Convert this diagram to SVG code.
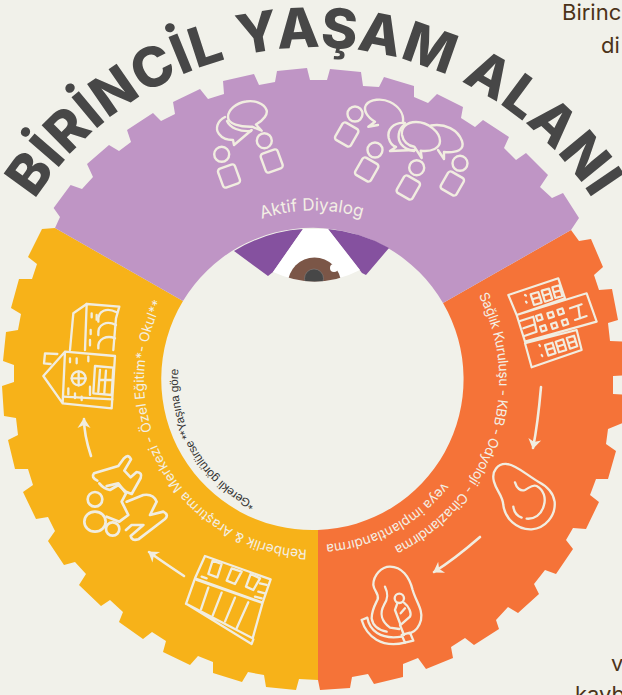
<svg xmlns="http://www.w3.org/2000/svg" width="622" height="695" viewBox="0 0 622 695">
<style>
.ic{fill:none;stroke:#f1ede0;stroke-width:2.4;stroke-linecap:round;stroke-linejoin:round}
.z{stroke-width:7}
.pf{fill:#bf95c5}
.t{font-family:"Inter","Open Sans",sans-serif;fill:#f3efe4;font-size:13.6px}
.sn{fill:#4c3319;font-family:"Inter","Open Sans",sans-serif;font-size:22px}
.ar{fill:none;stroke:#f1ede0;stroke-width:2.6;stroke-linecap:round}
</style>
<defs>
<marker id="ah" markerUnits="userSpaceOnUse" markerWidth="16" markerHeight="16" refX="10" refY="8" orient="auto" overflow="visible"><path d="M1,1.5L11,8L1,14.5L4,8Z" fill="#f1ede0"/></marker>
<path id="pt" d="M-13,322A332,332 0 0 1 641,322"/>
<path id="pa" d="M205,250A170,170 0 0 1 423,250"/>
<path id="po1" d="M478.700,295.400A185,185 0 0 1 330,564.300"/>
<path id="po2" d="M443.100,482A165,165 0 0 1 257.600,535"/>
<path id="py" d="M307,549.800A170,170 0 0 1 183.800,270.700"/>
<path id="pd" d="M255.200,502.700A136,136 0 0 1 182.600,344.800"/>
<clipPath id="lens"><path d="M303,229L328,229L360,270Q317,292 273,272Z"/></clipPath>
</defs>
<rect width="622" height="695" fill="#f1f1ea"/>
<g id="yellow-segment">
<path fill="#f7b219" d="M183,301L55,228L42,229L28,257L37,264L32,279L19,279L11,308L21,314L18,330L6,332L3,361L14,365L14,382L2,386L4,416L16,418L18,435L8,440L15,469L28,469L33,485L23,492L36,519L48,517L55,531L48,541L64,565L75,562L86,574L79,585L101,606L110,600L123,612L119,622L143,639L152,632L166,641L163,652L190,665L198,656L213,662L213,673L242,682L248,672L264,675L266,687L296,690L299,679L318,680L318,530A151,151 0 0 1 183,301Z"/>
<text class="t"><textPath href="#py">Rehberlik &amp; Araştırma Merkezi - Özel Eğitim*- Okul**</textPath></text>
<text style="font-family:'Liberation Sans',sans-serif;font-size:11.800px;fill:#333;letter-spacing:-.2px"><textPath href="#pd">*Gerekli görülürse  **Yaşına göre</textPath></text>
<g class="ic z" transform="translate(20 280) scale(.3333)">
<path d="M135,215L70,288L128,370L275,385L285,228L135,215L128,370"/>
<path d="M130,350L277,358"/>
<path d="M112,222L75,220L72,250L92,252"/>
<path d="M150,210L160,100L200,72L298,80L288,115L285,150L280,210"/>
<path d="M200,72L195,210"/>
<path d="M235,125C232,90 262,82 290,97M235,165C232,130 262,122 288,135M235,205C232,175 262,165 285,175"/>
<circle cx="176" cy="295" r="21"/><path d="M155,295H197M176,274V316"/>
<path d="M225,258L280,263L275,345L220,340ZM240,270L235,335M258,272L253,338M272,300H240"/>
<path d="M150,235v12M170,235v15M205,230v14M145,325v18M165,340v14M185,350v10M210,320v25M215,100v12M230,105v14M212,150v12M210,180v16"/>
</g>
<g class="ic z" transform="translate(60 450) scale(.3333)" style="stroke-width:8">
<circle cx="105" cy="148" r="22"/><ellipse cx="105" cy="215" rx="32" ry="30"/><circle cx="158" cy="237" r="20"/>
<path d="M112,92Q92,82 102,70L175,48L192,25Q205,10 213,28L193,62L212,82L230,66Q248,68 242,84L215,132L198,125L175,105L150,120Q130,115 118,100"/>
<path d="M140,108L175,100L198,130L185,155L205,195L178,215L140,200"/>
<path d="M200,155L250,135Q280,130 290,155L270,195L310,185Q328,195 315,207L235,268Q215,274 212,258L250,225L215,225L198,240"/>
</g>
<g class="ic z" transform="translate(60 450) scale(.3333)">
<path d="M435,318L632,388L608,458L405,385ZM410,390L605,458M378,462L405,385M608,458L578,565L380,462L575,582L580,568"/>
<path d="M445,413L423,478M485,428L458,497M525,443L495,515M565,457L530,535"/>
<path d="M458,332L485,342L472,382L445,372ZM515,355L545,365L525,402L500,392ZM572,372L600,385L580,420L558,410Z"/>
<path d="M425,380L440,385M600,400L620,405M595,425L615,430M585,440L605,445"/>
</g>
</g>
<g id="orange-segment">
<path fill="#f57338" d="M443,303L571,230L579,241L591,239L603,267L594,275L599,290L612,289L618,320L608,323L610,341L630,342L630,375L613,376L613,394L630,395L630,420L608,429L606,444L616,451L608,479L596,479L590,495L599,502L586,529L573,528L566,540L573,549L556,574L545,570L534,584L539,594L518,613L508,607L496,620L499,629L474,645L465,638L451,647L453,658L426,669L418,658L403,664L403,677L374,684L368,674L352,677L350,688L320,690L318,680L318,530A151,151 0 0 0 443,303Z"/>
<text class="t" style="letter-spacing:-.35px"><textPath href="#po1">Sağlık Kuruluşu - KBB - Odyoloji - Cihazlandırma</textPath></text>
<text class="t"><textPath href="#po2">veya implantlandırma</textPath></text>
<g class="ic" transform="translate(440 260) scale(.3333)" style="stroke-width:6.500">
<path d="M205,105L355,55L375,115L230,165ZM230,165L440,100L470,185L255,245ZM255,250L410,210L425,270L275,322Z"/>
<path d="M272,103L295,96L305,128L282,135ZM305,92L327,86L337,118L315,125ZM337,82L358,76L367,108L346,114ZM277,118L300,111M310,107L332,100M342,97L362,91"/>
<path d="M255,105L258,107M258,125L260,128M298,255L300,258M305,285L307,288"/>
<path d="M315,255L337,248L347,280L325,287ZM347,245L369,238L379,270L357,277ZM380,234L402,227L412,259L390,266ZM320,270L342,263M352,260L374,253M385,250L407,243"/>
<path d="M288,168L303,163L308,178L293,183ZM322,160L337,155L342,170L327,175ZM352,150L367,145L372,160L357,165ZM300,200L315,195L320,210L305,215ZM333,192L348,187L353,202L338,207ZM365,182L380,177L385,192L370,197Z"/>
<path d="M390,145L425,133M405,180L440,168M415,140L420,175"/>
<path d="M240,183L280,170L290,215L253,228M250,205L285,193"/>
</g>
<g class="ic z" transform="translate(310 450) scale(.3333)">
<path d="M590,42C565,40 543,62 552,95C560,125 578,135 580,165C585,205 620,240 665,238C705,235 738,198 734,155C730,125 710,108 685,95C650,75 615,42 590,42Z"/>
<path d="M615,97C620,115 632,125 645,120C660,112 668,102 680,108C702,120 708,145 702,165C695,195 672,208 650,206"/>
<path d="M610,170C612,185 622,198 635,203"/>
<path d="M190,405C190,375 215,350 240,350C275,350 298,380 308,420C318,455 340,480 333,510C328,530 315,545 300,550M190,405C192,425 208,430 203,448C195,465 185,480 185,505C188,525 205,540 230,545"/>
<path d="M225,410C235,430 235,445 222,465C208,490 215,515 240,533L268,537"/>
<circle cx="268" cy="445" r="14"/>
<path d="M262,460L255,480L272,525L300,500C305,490 298,470 282,458M272,490L285,475M270,525L282,555"/>
<path d="M275,555L300,548L310,572L285,578Z"/>
<path d="M155,510L172,503C178,540 210,570 275,560M155,510C170,560 215,595 285,578"/>
</g>
</g>
<g id="purple-segment">
<path fill="#bf95c5" d="M183,301L55,228L60,217L53.600,208L70.600,185L82,189L93,177L87,164L109,145L119,151L131,142L127,130L153,113L161,121L175,114L173,102L200,89L208,99L224,94L223,81L254,74L259,85L275,82L277,71L307,68L310,80L327,80L330,69L361,72L363,86L379,87L384,77L414,86L414,97L428,103L437,94L463,107L461,118L475,127L483,120L509,137L504,148L516,160L526,153L548,175L540,187L552,198L563,193L579,218L571,230L443,303A151,151 0 0 0 183,301Z"/>
<text class="t" style="font-size:17px"><textPath href="#pa" startOffset="49%" text-anchor="middle">Aktif Diyalog</textPath></text>
<g class="ic">
<circle cx="221.700" cy="154.300" r="7.500"/><rect x="220" y="166" width="18" height="20" rx="3" transform="rotate(-20 229 176)"/>
<circle cx="264.300" cy="140.700" r="7.500"/><rect x="262.700" y="151" width="18" height="20" rx="3" transform="rotate(-20 271.700 161)"/>
<path d="M225,117C217,121 215,129 219,134C222,138 228,140 233,140L234,145L251.700,130"/>
<path class="pf" d="M252,126.700L261.700,130.700L256,124.500C264,120 268,114 266.500,110C264,103 254,100 246,101.500C236,103 228,110 228,117C228,124 240,127 252,126.700Z"/>
<path d="M227,121C230,128 240,132 251,131"/>
<circle cx="355" cy="114" r="7.500"/><rect x="337.700" y="124.500" width="18" height="20" rx="3" transform="rotate(30 346.700 134.500)"/>
<circle cx="375" cy="150" r="7.500"/><rect x="357.700" y="159.500" width="18" height="20" rx="3" transform="rotate(30 366.700 169.500)"/>
<circle cx="416.700" cy="167.700" r="7.500"/><rect x="399.300" y="177.500" width="18" height="20" rx="3" transform="rotate(30 408.300 187.500)"/>
<circle cx="460" cy="163.300" r="7.500"/><rect x="443.300" y="173.500" width="18" height="20" rx="3" transform="rotate(30 452.300 183.500)"/>
<path d="M378,125L368.300,126.700L375,121.700C367,117 363,110 366,105C370,99 382,98 390,102C398,106 404,113 403,122"/>
<path d="M431,125.500C445,123 458,130 462,141C465,150 457,153 444,152L444,159L438,150"/>
<path d="M405,123C393,122 387,130 388.700,138C390,143 393,146 396,147L390,151L415,150"/>
<path d="M404,125C398,130 397,138 401,144C404,148 408,150 414,151"/>
<path class="pf" d="M414.300,146.700L421.700,158L420.700,150.700C432,152 440,148 440,141C440,132 428,122 416,122C406,122 401,128 402,135C403,141 408,146 414.300,146.700Z"/>
</g>
</g>
<g id="eye">
<path fill="#85519f" d="M234,251A151,151 0 0 1 303,229L273,272L268,276ZM328,229A151,151 0 0 1 389,248L366,275L362,273Z"/>
<path fill="#fff" d="M303,229L328,229L360,270Q317,292 273,272Z"/>
<g clip-path="url(#lens)"><circle cx="314.500" cy="284" r="26.500" fill="#7b5647"/><circle cx="314" cy="278.500" r="9.500" fill="#474747" stroke="#8a8a8a" stroke-width=".5"/><circle cx="334" cy="268" r="4" fill="#fff"/></g>
</g>
<g id="connectors">
<path class="ar" marker-end="url(#ah)" d="M541,387C539,410 537,428 533,448"/>
<path class="ar" marker-end="url(#ah)" d="M480,537C465,550 450,562 434,572"/>
<path class="ar" marker-end="url(#ah)" d="M184,576C172,568 160,560 149,552"/>
<path class="ar" marker-end="url(#ah)" d="M91,456C87,444 84,432 84,419"/>
</g>
<g id="title">
<text style="font-family:'Inter','Open Sans',sans-serif;font-weight:800;font-size:55px;letter-spacing:1.2px;fill:#474747"><textPath href="#pt" startOffset="50%" text-anchor="middle">BİRİNCİL YAŞAM ALANI</textPath></text>
</g>
<g id="side-text">
<text class="sn" x="562" y="20">Birinc</text>
<text class="sn" x="601" y="53">di</text>
<text class="sn" x="611" y="671">v</text>
<text class="sn" x="575" y="702">kayb</text>
</g>
</svg>
